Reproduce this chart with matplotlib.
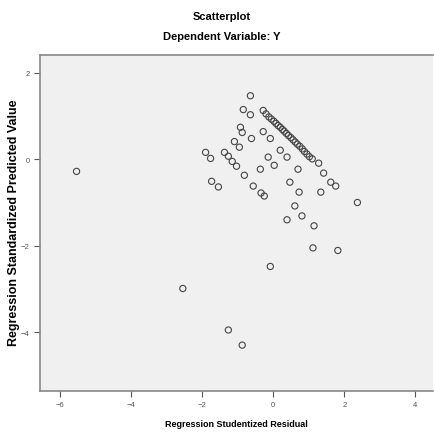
import matplotlib
matplotlib.use("Agg")
import matplotlib.pyplot as plt

# studentized residual (x) vs standardized predicted value (y)
resid = [-5.53, -2.54, -1.26, -0.87, -0.08, 1.12, 1.82, 2.37,
         -0.64, -0.84, -0.64, -0.28, -0.92, -0.87, -0.28, -0.08, -0.61, -1.09, -0.95,
         0.20, -1.90, -1.76, -1.37, -1.26, -1.15, -1.03, -0.14, 0.03, 0.39, -0.36,
         0.70, 1.28, 1.42, -0.81, -1.73, -1.54, -0.56, -0.34, -0.25, 0.47, 0.73,
         1.34, 1.62, 1.76, 0.61, 0.81, 0.39, 1.15,
         -0.20, -0.12, -0.05, 0.02, 0.08, 0.14, 0.20, 0.26, 0.31, 0.37, 0.43,
         0.50, 0.56, 0.62, 0.68, 0.75, 0.82, 0.88, 0.95, 1.02, 1.10]
pred = [-0.28, -2.99, -3.95, -4.30, -2.48, -2.05, -2.11, -1.00,
        1.47, 1.15, 1.03, 1.13, 0.74, 0.62, 0.64, 0.48, 0.48, 0.41, 0.28,
        0.21, 0.16, 0.02, 0.16, 0.07, -0.05, -0.16, 0.05, -0.14, 0.05, -0.23,
        -0.23, -0.09, -0.32, -0.37, -0.51, -0.64, -0.62, -0.78, -0.85, -0.53, -0.76,
        -0.76, -0.53, -0.62, -1.08, -1.31, -1.40, -1.54,
        1.05, 0.98, 0.93, 0.88, 0.83, 0.78, 0.74, 0.69, 0.65, 0.60, 0.55,
        0.50, 0.45, 0.40, 0.35, 0.30, 0.24, 0.18, 0.12, 0.06, 0.01]
xticks = [-6, -4, -2, 0, 2, 4]
yticks = [2, 0, -2, -4]

plt.rcParams['font.family'] = ['Liberation Sans', 'DejaVu Sans']

fig = plt.figure(figsize=(4.34, 4.35), dpi=100)
ax = fig.add_axes([0.092, 0.099, 0.906, 0.772])
ax.set_facecolor('#f0f0f0')

ax.scatter(resid, pred, s=20, facecolors='none', edgecolors='#444444', linewidths=0.8)

ax.set_xlim(-6.56, 4.5)
ax.set_ylim(-5.36, 2.41)
ax.set_xticks(xticks)
ax.set_yticks(yticks)
ax.tick_params(labelsize=5.5, colors='#555555', length=4, width=0.8)

for s in ax.spines.values():
    s.set_color('#888888')
    s.set_linewidth(1.2)
ax.spines['right'].set_visible(False)

ax.set_xlabel('Regression Studentized Residual', fontsize=6.5, fontweight='bold', labelpad=8)
fig.text(0.032, 0.487, 'Regression Standardized Predicted Value', rotation=90,
         ha='center', va='center', fontsize=9, fontweight='bold')

fig.text(0.512, 0.96, 'Scatterplot', ha='center', va='center', fontsize=8, fontweight='bold')
fig.text(0.512, 0.915, 'Dependent Variable: Y', ha='center', va='center', fontsize=8, fontweight='bold')

fig.savefig('out.png', dpi=100)
